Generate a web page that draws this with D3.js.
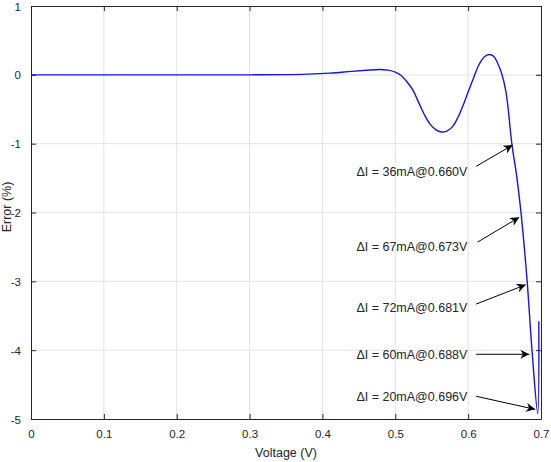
<!DOCTYPE html>
<html>
<head>
<meta charset="utf-8">
<script src="https://cdn.jsdelivr.net/npm/d3@7"></script>
<style>
body { margin: 0; background: #fff; }
text { font-family: "Liberation Sans", Arial, sans-serif; fill: #262626; }
</style>
</head>
<body>
<div id="chart"></div>
<script>
var w = 551;
var h = 462;
var margin = {top: 6, right: 10, bottom: 43, left: 31};

// curve data: voltage (V) vs error (%)
var voltage = [0, 0.05, 0.1, 0.15, 0.2, 0.25, 0.3, 0.35, 0.38, 0.41, 0.44, 0.46, 0.478, 0.49, 0.50, 0.508, 0.516, 0.524, 0.532, 0.540, 0.548, 0.556, 0.563, 0.570, 0.578, 0.586, 0.594, 0.601, 0.608, 0.615, 0.622, 0.629, 0.635, 0.640, 0.646, 0.652, 0.660, 0.667, 0.673, 0.681, 0.688, 0.6955, 0.697];
var error = [0, 0, 0, 0, 0, 0, 0, 0.003, 0.01, 0.025, 0.05, 0.066, 0.078, 0.068, 0.04, -0.01, -0.1, -0.22, -0.4, -0.58, -0.72, -0.8, -0.83, -0.82, -0.76, -0.62, -0.42, -0.22, -0.03, 0.15, 0.26, 0.295, 0.27, 0.18, 0.02, -0.25, -1.0, -1.5, -2.05, -3.0, -4.05, -4.92, -3.58];

var xTicks = [0, 0.1, 0.2, 0.3, 0.4, 0.5, 0.6, 0.7];
var yTicks = [1, 0, -1, -2, -3, -4, -5];

// annotations: label, label anchor, arrow tail, arrow head (data units)
var labels = ["\u0394I = 36mA@0.660V", "\u0394I = 67mA@0.673V", "\u0394I = 72mA@0.681V", "\u0394I = 60mA@0.688V", "\u0394I = 20mA@0.696V"];
var labelV = [0.599, 0.599, 0.599, 0.599, 0.599];
var labelE = [-1.41, -2.50, -3.38, -4.06, -4.68];
var tailV = [0.611, 0.613, 0.611, 0.611, 0.611];
var tailE = [-1.33, -2.43, -3.33, -4.06, -4.67];
var headV = [0.661, 0.670, 0.679, 0.684, 0.692];
var headE = [-1.02, -2.07, -3.05, -4.06, -4.86];

var pw = w - margin.left - margin.right;
var ph = h - margin.top - margin.bottom;

var xScale = d3.scaleLinear().domain([0, 0.7]).range([margin.left, margin.left + pw]);
var yScale = d3.scaleLinear().domain([-5, 1]).range([margin.top + ph, margin.top]);

// plain hyphen minus, as in the original
var fmt = function (d) { return String(d); };

var svg = d3.select("#chart").append("svg")
	.attr("width", w)
	.attr("height", h);

svg.append("defs").append("marker")
	.attr("id", "arrow")
	.attr("viewBox", "0 0 10 10")
	.attr("refX", 10)
	.attr("refY", 5)
	.attr("markerWidth", 14)
	.attr("markerHeight", 9)
	.attr("markerUnits", "userSpaceOnUse")
	.attr("orient", "auto")
	.append("path")
	.attr("d", "M0,0 L10,5 L0,10 L3,5 Z")
	.attr("fill", "#000");

// grid
svg.append("g").selectAll("line")
	.data(xTicks.slice(1, -1))
	.enter().append("line")
	.attr("x1", function (d) { return xScale(d); })
	.attr("x2", function (d) { return xScale(d); })
	.attr("y1", yScale(-5))
	.attr("y2", yScale(1))
	.attr("stroke", "#e3e3e3")
	.attr("stroke-width", 1);
svg.append("g").selectAll("line")
	.data(yTicks.slice(1, -1))
	.enter().append("line")
	.attr("y1", function (d) { return yScale(d); })
	.attr("y2", function (d) { return yScale(d); })
	.attr("x1", xScale(0))
	.attr("x2", xScale(0.7))
	.attr("stroke", "#e3e3e3")
	.attr("stroke-width", 1);

// axes, ticks inward
var xb = svg.append("g")
	.attr("transform", "translate(0," + yScale(-5) + ")")
	.call(d3.axisBottom(xScale).tickValues(xTicks).tickSizeInner(-5).tickSizeOuter(0).tickPadding(11).tickFormat(fmt));
var xt = svg.append("g")
	.attr("transform", "translate(0," + yScale(1) + ")")
	.call(d3.axisTop(xScale).tickValues(xTicks).tickSizeInner(-5).tickSizeOuter(0).tickFormat(""));
var yl = svg.append("g")
	.attr("transform", "translate(" + xScale(0) + ",0)")
	.call(d3.axisLeft(yScale).tickValues(yTicks).tickSizeInner(-5).tickSizeOuter(0).tickPadding(10).tickFormat(fmt));
var yr = svg.append("g")
	.attr("transform", "translate(" + xScale(0.7) + ",0)")
	.call(d3.axisRight(yScale).tickValues(yTicks).tickSizeInner(-5).tickSizeOuter(0).tickFormat(""));

[xb, xt, yl, yr].forEach(function (g) {
	g.selectAll("path").attr("stroke", "#262626");
	g.selectAll("line").attr("stroke", "#262626");
	g.selectAll("text")
		.attr("font-family", "Liberation Sans, Arial, sans-serif")
		.attr("font-size", "11.5px")
		.attr("fill", "#262626");
});
yl.selectAll("text").attr("dy", "0.35em");

// curve
var pts = voltage.map(function (v, i) { return [v, error[i]]; });
var line = d3.line()
	.x(function (d) { return xScale(d[0]); })
	.y(function (d) { return yScale(d[1]); })
	.curve(d3.curveCatmullRom.alpha(0.5));
svg.append("path")
	.datum(pts)
	.attr("d", line)
	.attr("fill", "none")
	.attr("stroke", "#1515e0")
	.attr("stroke-width", 1.4);

// annotations
labels.forEach(function (t, i) {
	svg.append("text")
		.attr("x", xScale(labelV[i]))
		.attr("y", yScale(labelE[i]))
		.attr("dy", "0.35em")
		.attr("text-anchor", "end")
		.attr("font-size", "12.5px")
		.text(t);
	svg.append("line")
		.attr("x1", xScale(tailV[i]))
		.attr("y1", yScale(tailE[i]))
		.attr("x2", xScale(headV[i]))
		.attr("y2", yScale(headE[i]))
		.attr("stroke", "#000")
		.attr("stroke-width", 1)
		.attr("marker-end", "url(#arrow)");
});

// axis titles
svg.append("text")
	.attr("x", xScale(0.35))
	.attr("y", 457)
	.attr("text-anchor", "middle")
	.attr("font-size", "12.5px")
	.text("Voltage (V)");
svg.append("text")
	.attr("transform", "translate(11,207) rotate(-90)")
	.attr("text-anchor", "middle")
	.attr("font-size", "12.5px")
	.text("Error (%)");
</script>
</body>
</html>
